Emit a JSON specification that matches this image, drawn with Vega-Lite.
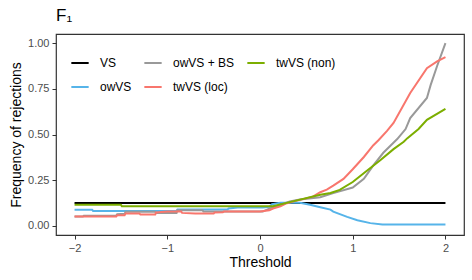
{
  "$schema": "https://vega.github.io/schema/vega-lite/v6.json",
  "autosize": "none",
  "width": 408,
  "height": 201,
  "padding": {"left": 56, "top": 34, "right": 8, "bottom": 45},
  "background": "white",
  "title": {"text": "F₁", "anchor": "start", "frame": "group", "font": "Liberation Sans", "fontSize": 17, "fontWeight": "normal", "color": "#000000", "offset": 9},
  "config": {
    "view": {"stroke": "#333333", "strokeWidth": 1.2},
    "font": "Liberation Sans",
    "axis": {"grid": false, "domain": false, "tickColor": "#333333", "tickSize": 4, "labelColor": "#4D4D4D", "labelFontSize": 11, "labelFont": "Liberation Sans", "titleFont": "Liberation Sans", "titleFontSize": 14, "titleFontWeight": "normal", "titleColor": "#000000", "labelPadding": 3}
  },
  "data": {"values": [
    {"m": "VS", "x": -2, "y": 0.125}, {"m": "VS", "x": 2, "y": 0.125},
    {"m": "owVS", "x": -2, "y": 0.088}, {"m": "owVS", "x": -1.81, "y": 0.088}, {"m": "owVS", "x": -1.8, "y": 0.082}, {"m": "owVS", "x": -0.9, "y": 0.082}, {"m": "owVS", "x": -0.89, "y": 0.089}, {"m": "owVS", "x": -0.35, "y": 0.089}, {"m": "owVS", "x": -0.34, "y": 0.095}, {"m": "owVS", "x": -0.24, "y": 0.1}, {"m": "owVS", "x": 0.03, "y": 0.1}, {"m": "owVS", "x": 0.1, "y": 0.105}, {"m": "owVS", "x": 0.13, "y": 0.118}, {"m": "owVS", "x": 0.22, "y": 0.127}, {"m": "owVS", "x": 0.43, "y": 0.127}, {"m": "owVS", "x": 0.54, "y": 0.115}, {"m": "owVS", "x": 0.65, "y": 0.102}, {"m": "owVS", "x": 0.76, "y": 0.089}, {"m": "owVS", "x": 0.79, "y": 0.078}, {"m": "owVS", "x": 0.94, "y": 0.049}, {"m": "owVS", "x": 1.05, "y": 0.031}, {"m": "owVS", "x": 1.19, "y": 0.015}, {"m": "owVS", "x": 1.32, "y": 0.007}, {"m": "owVS", "x": 2, "y": 0.007},
    {"m": "owVS + BS", "x": -2, "y": 0.051}, {"m": "owVS + BS", "x": -1.91, "y": 0.051}, {"m": "owVS + BS", "x": -1.9, "y": 0.056}, {"m": "owVS + BS", "x": -1.55, "y": 0.056}, {"m": "owVS + BS", "x": -1.54, "y": 0.064}, {"m": "owVS + BS", "x": -1.46, "y": 0.066}, {"m": "owVS + BS", "x": -1.45, "y": 0.077}, {"m": "owVS + BS", "x": -1.13, "y": 0.077}, {"m": "owVS + BS", "x": -1.12, "y": 0.07}, {"m": "owVS + BS", "x": -0.9, "y": 0.07}, {"m": "owVS + BS", "x": -0.89, "y": 0.086}, {"m": "owVS + BS", "x": -0.62, "y": 0.086}, {"m": "owVS + BS", "x": -0.61, "y": 0.078}, {"m": "owVS + BS", "x": 0.03, "y": 0.078}, {"m": "owVS + BS", "x": 0.11, "y": 0.097}, {"m": "owVS + BS", "x": 0.18, "y": 0.108}, {"m": "owVS + BS", "x": 0.32, "y": 0.133}, {"m": "owVS + BS", "x": 0.43, "y": 0.144}, {"m": "owVS + BS", "x": 0.65, "y": 0.157}, {"m": "owVS + BS", "x": 0.79, "y": 0.179}, {"m": "owVS + BS", "x": 1.0, "y": 0.21}, {"m": "owVS + BS", "x": 1.12, "y": 0.257}, {"m": "owVS + BS", "x": 1.22, "y": 0.33}, {"m": "owVS + BS", "x": 1.33, "y": 0.4}, {"m": "owVS + BS", "x": 1.45, "y": 0.46}, {"m": "owVS + BS", "x": 1.48, "y": 0.475}, {"m": "owVS + BS", "x": 1.57, "y": 0.53}, {"m": "owVS + BS", "x": 1.62, "y": 0.59}, {"m": "owVS + BS", "x": 1.8, "y": 0.7}, {"m": "owVS + BS", "x": 1.84, "y": 0.77}, {"m": "owVS + BS", "x": 1.91, "y": 0.875}, {"m": "owVS + BS", "x": 2.0, "y": 1.0},
    {"m": "twVS (loc)", "x": -2, "y": 0.051}, {"m": "twVS (loc)", "x": -1.55, "y": 0.051}, {"m": "twVS (loc)", "x": -1.54, "y": 0.058}, {"m": "twVS (loc)", "x": -1.46, "y": 0.058}, {"m": "twVS (loc)", "x": -1.45, "y": 0.067}, {"m": "twVS (loc)", "x": -1.3, "y": 0.067}, {"m": "twVS (loc)", "x": -1.29, "y": 0.062}, {"m": "twVS (loc)", "x": -1.13, "y": 0.062}, {"m": "twVS (loc)", "x": -1.12, "y": 0.073}, {"m": "twVS (loc)", "x": -1.0, "y": 0.078}, {"m": "twVS (loc)", "x": -0.85, "y": 0.078}, {"m": "twVS (loc)", "x": -0.84, "y": 0.071}, {"m": "twVS (loc)", "x": -0.7, "y": 0.067}, {"m": "twVS (loc)", "x": -0.5, "y": 0.067}, {"m": "twVS (loc)", "x": -0.49, "y": 0.073}, {"m": "twVS (loc)", "x": -0.4, "y": 0.075}, {"m": "twVS (loc)", "x": -0.39, "y": 0.078}, {"m": "twVS (loc)", "x": 0.0, "y": 0.078}, {"m": "twVS (loc)", "x": 0.1, "y": 0.085}, {"m": "twVS (loc)", "x": 0.14, "y": 0.095}, {"m": "twVS (loc)", "x": 0.22, "y": 0.107}, {"m": "twVS (loc)", "x": 0.29, "y": 0.124}, {"m": "twVS (loc)", "x": 0.4, "y": 0.138}, {"m": "twVS (loc)", "x": 0.57, "y": 0.16}, {"m": "twVS (loc)", "x": 0.65, "y": 0.184}, {"m": "twVS (loc)", "x": 0.72, "y": 0.198}, {"m": "twVS (loc)", "x": 0.79, "y": 0.22}, {"m": "twVS (loc)", "x": 0.9, "y": 0.257}, {"m": "twVS (loc)", "x": 1.0, "y": 0.31}, {"m": "twVS (loc)", "x": 1.12, "y": 0.377}, {"m": "twVS (loc)", "x": 1.22, "y": 0.44}, {"m": "twVS (loc)", "x": 1.28, "y": 0.47}, {"m": "twVS (loc)", "x": 1.37, "y": 0.52}, {"m": "twVS (loc)", "x": 1.44, "y": 0.563}, {"m": "twVS (loc)", "x": 1.62, "y": 0.727}, {"m": "twVS (loc)", "x": 1.8, "y": 0.863}, {"m": "twVS (loc)", "x": 1.91, "y": 0.9}, {"m": "twVS (loc)", "x": 2.0, "y": 0.923},
    {"m": "twVS (non)", "x": -2, "y": 0.115}, {"m": "twVS (non)", "x": -1.5, "y": 0.115}, {"m": "twVS (non)", "x": -1.49, "y": 0.108}, {"m": "twVS (non)", "x": 0.14, "y": 0.108}, {"m": "twVS (non)", "x": 0.32, "y": 0.13}, {"m": "twVS (non)", "x": 0.65, "y": 0.17}, {"m": "twVS (non)", "x": 0.76, "y": 0.18}, {"m": "twVS (non)", "x": 0.86, "y": 0.197}, {"m": "twVS (non)", "x": 1.0, "y": 0.24}, {"m": "twVS (non)", "x": 1.19, "y": 0.317}, {"m": "twVS (non)", "x": 1.3, "y": 0.36}, {"m": "twVS (non)", "x": 1.44, "y": 0.42}, {"m": "twVS (non)", "x": 1.55, "y": 0.46}, {"m": "twVS (non)", "x": 1.59, "y": 0.48}, {"m": "twVS (non)", "x": 1.71, "y": 0.53}, {"m": "twVS (non)", "x": 1.8, "y": 0.58}, {"m": "twVS (non)", "x": 2.0, "y": 0.64}
  ]},
  "mark": {"type": "line", "strokeWidth": 2, "clip": true},
  "encoding": {
    "x": {"field": "x", "type": "quantitative", "title": "Threshold", "scale": {"domain": [-2.2, 2.2], "nice": false, "zero": false}, "axis": {"values": [-2, -1, 0, 1, 2], "format": "d", "titlePadding": 2}},
    "y": {"field": "y", "type": "quantitative", "title": "Frequency of rejections", "scale": {"domain": [-0.05, 1.05], "nice": false}, "axis": {"values": [0, 0.25, 0.5, 0.75, 1], "format": ".2f", "titlePadding": 4}},
    "color": {"field": "m", "type": "nominal", "sort": null,
      "scale": {"domain": ["VS", "owVS + BS", "twVS (non)", "owVS", "twVS (loc)"], "range": ["#000000", "#999999", "#7CAE00", "#56B4E9", "#F8766D"]},
      "legend": {"title": null, "orient": "none", "legendX": 14, "legendY": 19, "columns": 3, "direction": "horizontal", "symbolType": "stroke", "symbolSize": 300, "symbolStrokeWidth": 2, "labelFontSize": 12, "labelFont": "Liberation Sans", "labelColor": "#000000", "labelOffset": 10, "columnPadding": 8, "rowPadding": 8}
    },
    "strokeWidth": {"condition": {"test": "datum.m === 'VS'", "value": 2.5}, "value": 2}
  }
}
